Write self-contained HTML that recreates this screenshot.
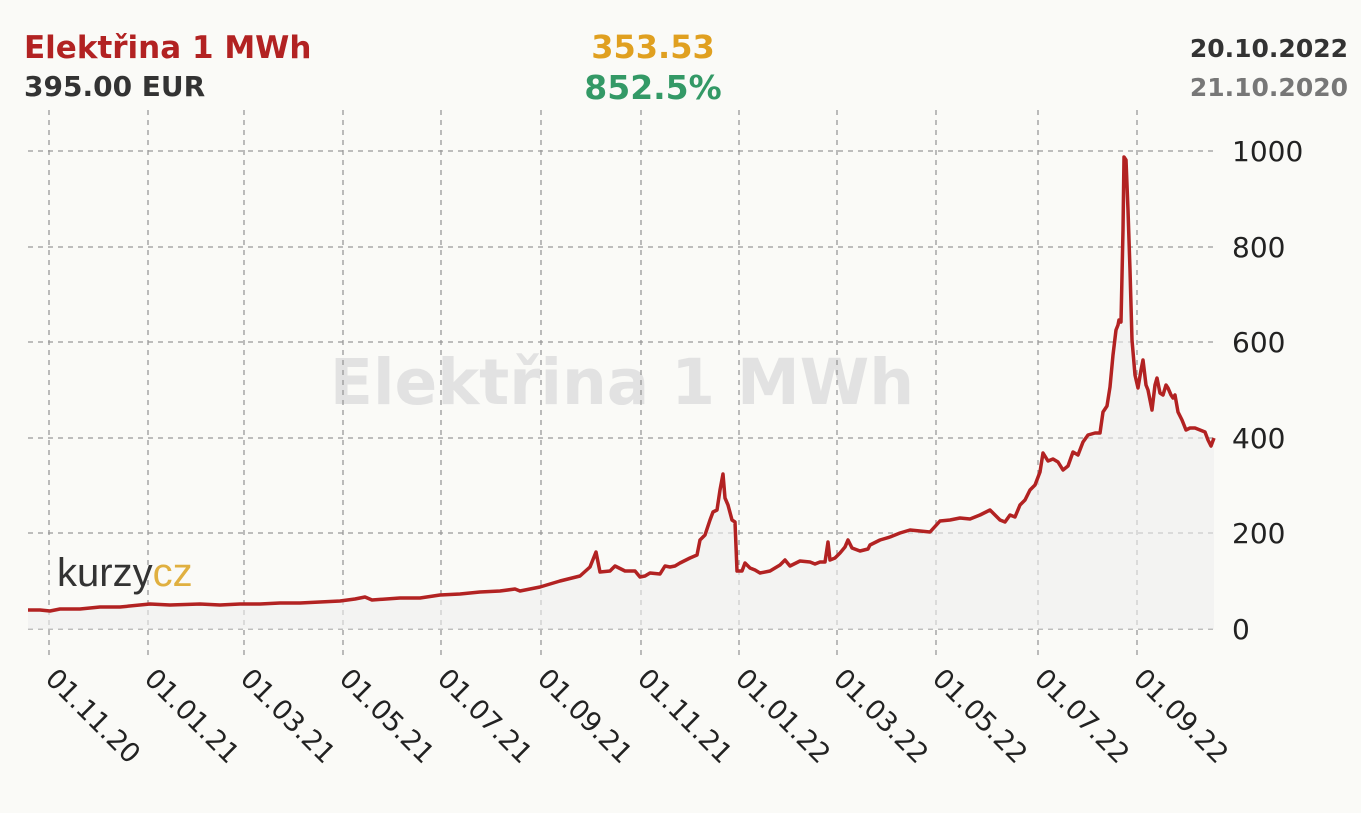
<!DOCTYPE html>
<html><head><meta charset="utf-8"><style>
body{margin:0;background:#fafaf7;}
svg{display:block;font-family:"DejaVu Sans","Liberation Sans",sans-serif;}
</style></head><body>
<svg width="1361" height="813" viewBox="0 0 1361 813">
<rect width="1361" height="813" fill="#fafaf7"/>
<text x="622" y="404" font-size="63" font-weight="bold" fill="#e2e2e2" text-anchor="middle">Elektřina 1 MWh</text>
<g stroke="#999" stroke-dasharray="5,5" stroke-width="1.3" fill="none">
<line x1="28" y1="151" x2="1213" y2="151"/><line x1="28" y1="247" x2="1213" y2="247"/>
<line x1="28" y1="342" x2="1213" y2="342"/><line x1="28" y1="438" x2="1213" y2="438"/>
<line x1="28" y1="533" x2="1213" y2="533"/><line x1="28" y1="629" x2="1213" y2="629"/>
<line x1="49" y1="110" x2="49" y2="660"/><line x1="148" y1="110" x2="148" y2="660"/>
<line x1="244" y1="110" x2="244" y2="660"/><line x1="343" y1="110" x2="343" y2="660"/>
<line x1="441" y1="110" x2="441" y2="660"/><line x1="541" y1="110" x2="541" y2="660"/>
<line x1="641" y1="110" x2="641" y2="660"/><line x1="739" y1="110" x2="739" y2="660"/>
<line x1="837" y1="110" x2="837" y2="660"/><line x1="936" y1="110" x2="936" y2="660"/>
<line x1="1038" y1="110" x2="1038" y2="660"/><line x1="1137" y1="110" x2="1137" y2="660"/>
</g>
<text x="57" y="586" font-size="40" fill="#333" font-family="Liberation Sans,sans-serif" font-weight="300">kurzy<tspan fill="#e0b040">cz</tspan></text>
<polygon id="area" fill="#eeeeee" fill-opacity="0.6" points=""/>
<polyline id="ln" fill="none" stroke="#b22222" stroke-width="3.5" stroke-linejoin="round" points="28,610 40,610 50,611 60,609 80,609 100,607 120,607 150,604 170,605 200,604 220,605 240,604 260,604 280,603 300,603 340,601 355,599 365,597 372,600 400,598 420,598 440,595 460,594 480,592 500,591 515,589 520,591 540,587 560,581 580,576 590,567 596,552 600,572 610,571 615,566 625,571 635,571 640,577 645,576 650,573 660,574 665,566 670,567 675,566 680,563 690,558 697,555 700,540 705,535 710,520 713,512 717,510 720,490 723,474 725,498 728,505 732,520 735,522 737,571 742,571 745,563 750,568 755,570 760,573 770,571 780,565 785,560 790,566 800,561 810,562 815,564 820,562 825,562 828,542 830,560 835,558 840,553 845,547 848,540 852,548 860,551 868,549 870,545 880,540 890,537 900,533 910,530 920,531 930,532 940,521 950,520 960,518 970,519 980,515 990,510 995,515 1000,520 1005,522 1010,515 1015,517 1020,505 1025,500 1030,490 1035,485 1040,472 1043,453 1048,461 1053,459 1058,462 1063,470 1068,466 1073,452 1078,455 1083,442 1088,435 1095,433 1100,433 1103,412 1107,406 1110,387 1113,355 1116,330 1118,325 1119,320 1121,322 1123,230 1124,157 1126,160 1128,210 1130,270 1132,340 1135,375 1138,388 1141,370 1143,360 1146,385 1148,390 1152,410 1155,385 1157,378 1160,393 1163,395 1166,385 1168,388 1171,395 1173,398 1175,395 1178,412 1182,420 1186,430 1190,428 1195,428 1200,430 1205,432 1208,440 1211,446 1214,438"/>
<g font-size="28" fill="#222">
<text x="1232" y="161">1000</text><text x="1232" y="257">800</text><text x="1232" y="352">600</text>
<text x="1232" y="448">400</text><text x="1232" y="543">200</text><text x="1232" y="639">0</text>
</g>
<g font-size="27" fill="#222">
<text transform="translate(44,680) rotate(45)">01.11.20</text>
<text transform="translate(143,680) rotate(45)">01.01.21</text>
<text transform="translate(239,680) rotate(45)">01.03.21</text>
<text transform="translate(338,680) rotate(45)">01.05.21</text>
<text transform="translate(436,680) rotate(45)">01.07.21</text>
<text transform="translate(536,680) rotate(45)">01.09.21</text>
<text transform="translate(636,680) rotate(45)">01.11.21</text>
<text transform="translate(734,680) rotate(45)">01.01.22</text>
<text transform="translate(832,680) rotate(45)">01.03.22</text>
<text transform="translate(931,680) rotate(45)">01.05.22</text>
<text transform="translate(1033,680) rotate(45)">01.07.22</text>
<text transform="translate(1132,680) rotate(45)">01.09.22</text>
</g>
<g font-weight="bold">
<text x="24" y="58" fill="#b22222" font-size="31">Elektřina 1 MWh</text>
<text x="24" y="96" fill="#333" font-size="28">395.00 EUR</text>
<text x="653" y="58" fill="#e0a020" text-anchor="middle" font-size="32">353.53</text>
<text x="653" y="99" fill="#339966" text-anchor="middle" font-size="33">852.5%</text>
<text x="1348" y="57" fill="#333" text-anchor="end" font-size="25">20.10.2022</text>
<text x="1348" y="96" fill="#777" text-anchor="end" font-size="25">21.10.2020</text>
</g>
<script>
var l=document.getElementById('ln').getAttribute('points');
document.getElementById('area').setAttribute('points',l+' 1214,629 28,629');
</script>
</svg>
</body></html>
